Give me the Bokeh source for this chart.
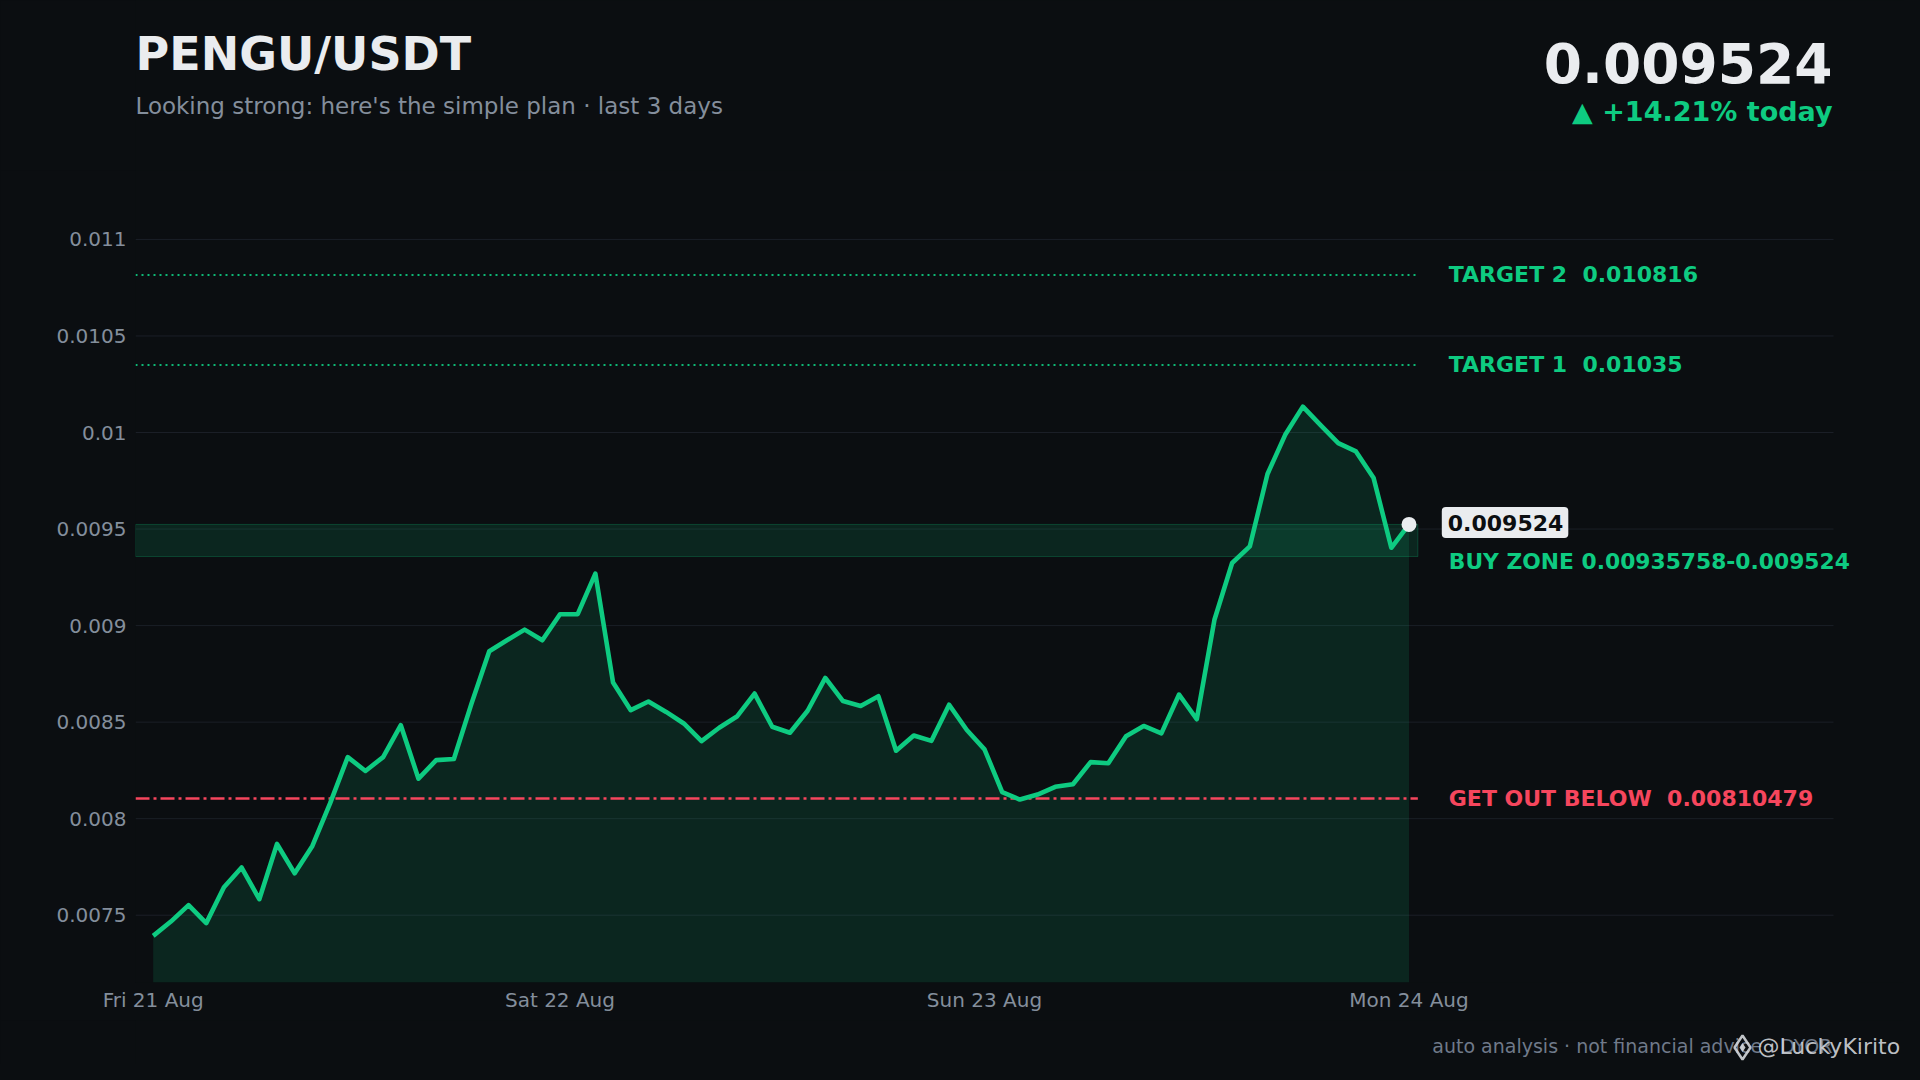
from bokeh.plotting import figure
from bokeh.models import Label, FixedTicker, Range1d, ColumnDataSource
from bokeh.layouts import column
from bokeh.core.properties import value
from bokeh.embed import file_html
from bokeh.resources import INLINE

# ---------------- data ----------------
pair = "PENGU/USDT"
subtitle = "Looking strong: here's the simple plan \u00b7 last 3 days"
hours = list(range(1, 73))
prices = [
    0.007393, 0.007467, 0.007552, 0.007459, 0.007645, 0.007747, 0.007583, 0.007869,
    0.007717, 0.007859, 0.008079, 0.008319, 0.008247, 0.008319, 0.008484, 0.008207,
    0.008303, 0.008309, 0.008597, 0.008867, 0.008924, 0.008979, 0.008924, 0.009059,
    0.009059, 0.009269, 0.008705, 0.008562, 0.008607, 0.008553, 0.008493, 0.008402,
    0.008471, 0.008529, 0.008648, 0.008476, 0.008445, 0.008559, 0.008729, 0.008609,
    0.008584, 0.008634, 0.008352, 0.008431, 0.008403, 0.008590, 0.008459, 0.008359,
    0.008138, 0.008099, 0.008125, 0.008165, 0.008178, 0.008293, 0.008287, 0.008427,
    0.008480, 0.008442, 0.008643, 0.008515, 0.009030, 0.009324, 0.009410, 0.009785,
    0.009988, 0.010134, 0.010038, 0.009945, 0.009902, 0.009764, 0.009403, 0.009524,
]
last_price_text = "0.009524"
change_text = "\u25b2 +14.21% today"
target2 = 0.010816
target1 = 0.01035
buy_low = 0.00935758
buy_high = 0.009524
stop = 0.00810479
NB = "\u00a0 "
target2_text = "TARGET 2" + NB + "0.010816"
target1_text = "TARGET 1" + NB + "0.01035"
buy_text = "BUY ZONE 0.00935758-0.009524"
stop_text = "GET OUT BELOW" + NB + "0.00810479"
footer_text = "auto analysis \u00b7 not financial advice \u00b7 DYOR"
watermark_text = "@LuckyKirito"

x_ticks = [1, 24, 48, 72]
x_tick_labels = ["Fri 21 Aug", "Sat 22 Aug", "Sun 23 Aug", "Mon 24 Aug"]
y_ticks = [0.0075, 0.008, 0.0085, 0.009, 0.0095, 0.01, 0.0105, 0.011]
y_tick_labels = ["0.0075", "0.008", "0.0085", "0.009", "0.0095", "0.01", "0.0105", "0.011"]

# ---------------- style / layout ----------------
BG = "#0b0e11"
GREEN = "#0ecb81"
RED = "#f6465d"
WHITE = "#eaecef"
GREY = "#848e9c"
GRID = "#1b1f27"
FONT = "DejaVu Sans"

W = 1904
H_HEAD = 170
H_MAIN = 850
H_FOOT = 44
FL = 135            # left edge of plotting area
GRID_RIGHT = 1833   # right end of the grid lines
BOTTOM_BORDER = 38
X0, GRID_END = 0, 96
PX_PER_X = (GRID_RIGHT - FL) / (GRID_END - X0)
X1 = X0 + (W - FL) / PX_PER_X
Y0, Y1 = 0.0071515, 0.011357


def blank(h, top_px):
    f = figure(width=W, height=h, output_backend="svg", toolbar_location=None,
               x_range=Range1d(FL, W), y_range=Range1d(top_px + h, top_px),
               x_axis_type=None, y_axis_type=None,
               min_border_left=FL, min_border_right=0, min_border_top=0, min_border_bottom=0)
    f.background_fill_color = BG
    f.border_fill_color = BG
    f.outline_line_color = None
    return f


def txt(f, x, y, text, color, size, style="bold", align="left", alpha=1.0):
    f.text(x=[x], y=[y], text=[text], text_color=color, text_alpha=alpha,
           text_font=value(FONT), text_font_size=value(size), text_font_style=style,
           text_align=align, text_baseline="middle")


# header (coordinates are page pixels)
head = blank(H_HEAD, 0)
txt(head, FL, 53, pair, WHITE, "46px")
txt(head, FL, 105, subtitle, GREY, "23px", style="normal")
txt(head, 1832, 62, last_price_text, WHITE, "55px", align="right")
txt(head, 1832, 111, change_text, GREEN, "27px", align="right")

# main chart
p = figure(width=W, height=H_MAIN, output_backend="svg", toolbar_location=None,
           x_range=Range1d(X0, X1), y_range=Range1d(Y0, Y1),
           min_border_left=FL, min_border_right=0,
           min_border_top=0, min_border_bottom=BOTTOM_BORDER)
p.background_fill_color = BG
p.border_fill_color = BG
p.outline_line_color = None
p.xgrid.visible = False
p.ygrid.visible = False

for ax in (p.xaxis[0], p.yaxis[0]):
    ax.axis_line_color = None
    ax.major_tick_line_color = None
    ax.minor_tick_line_color = None
    ax.major_tick_out = 0
    ax.major_tick_in = 0
    ax.minor_tick_out = 0
    ax.major_label_text_color = GREY
    ax.major_label_text_font = FONT
    ax.major_label_text_font_size = "20px"

p.xaxis.ticker = FixedTicker(ticks=x_ticks)
p.xaxis.major_label_overrides = dict(zip(x_ticks, x_tick_labels))
p.xaxis.major_label_standoff = 5
p.yaxis.ticker = FixedTicker(ticks=y_ticks)
p.yaxis.major_label_overrides = dict(zip(y_ticks, y_tick_labels))
p.yaxis.major_label_standoff = 9

# horizontal grid lines (stop short of the right margin, as in the original)
p.segment(x0=[X0] * len(y_ticks), x1=[GRID_END] * len(y_ticks), y0=y_ticks, y1=y_ticks,
          line_color=GRID, line_width=1, level="underlay")

x_end = hours[-1] + 0.5
x_lbl = hours[-1] + 2.25

# buy zone
p.quad(left=[X0], right=[x_end], bottom=[buy_low], top=[buy_high],
       fill_color=GREEN, fill_alpha=0.13, line_color=GREEN, line_alpha=0.25, line_width=1)

# area
src = ColumnDataSource(dict(x=hours, y=prices))
p.varea(x="x", y1=Y0, y2="y", source=src, fill_color=GREEN, fill_alpha=0.13)

# levels
p.segment(x0=[X0, X0], x1=[x_end, x_end], y0=[target2, target1], y1=[target2, target1],
          line_color=GREEN, line_width=2, line_dash="2 4", line_alpha=0.9)
p.segment(x0=[X0], x1=[x_end], y0=[stop], y1=[stop],
          line_color=RED, line_width=2.4, line_dash="14 4 3 4")

# price line
p.line(x="x", y="y", source=src, line_color=GREEN, line_width=4.6, line_join="round")
p.scatter(x=[hours[-1]], y=[prices[-1]], size=15, fill_color=WHITE, line_color=None)


def lab(text, x, y, color, size="22px", **kw):
    l = Label(x=x, y=y, text=text, text_color=color, text_font=FONT, text_font_size=size,
              text_font_style="bold", text_align="left", text_baseline="middle", **kw)
    p.add_layout(l)
    return l


lab(target2_text, x_lbl, target2, GREEN)
lab(target1_text, x_lbl, target1, GREEN)
lab(stop_text, x_lbl, stop, RED)
lab(buy_text, x_lbl, buy_low, GREEN, size="21.8px", y_offset=-5)
lab(last_price_text, x_lbl, buy_high, BG, background_fill_color=WHITE,
    padding=dict(left=6, right=5, top=8, bottom=7), border_radius=4, x_offset=-7,
    y_offset=2)

# footer (page-pixel coordinates)
foot_top = H_HEAD + H_MAIN
foot = blank(H_FOOT, foot_top)
txt(foot, 1832, 1045, footer_text, "#707a8a", "19px", style="normal", align="right")
foot.scatter(x=[1742], y=[1047], marker="diamond", size=24, fill_color=None,
             line_color="#d4d7dc", line_width=2.5, line_alpha=0.9)
foot.scatter(x=[1742], y=[1047], marker="diamond", size=9, fill_color="#d4d7dc",
             line_color=None, fill_alpha=0.9)
txt(foot, 1757, 1046, watermark_text, "#d4d7dc", "22px", style="normal", alpha=0.9)

layout = column(head, p, foot, spacing=0)

html = file_html(layout, INLINE)
html = html.replace("<head>", "<head><style>html,body{background:#0b0e11;}</style>", 1)
open("out.html", "w").write(html)
